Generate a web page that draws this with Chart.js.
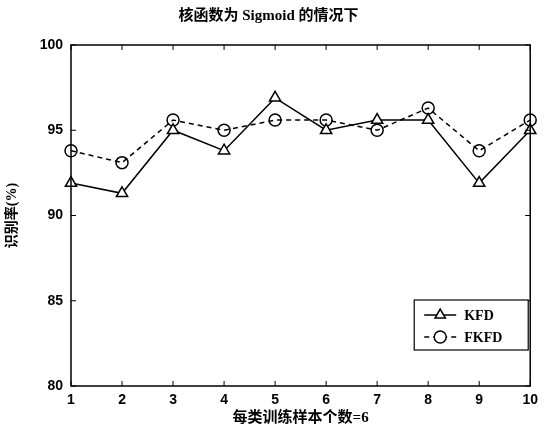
<!DOCTYPE html>
<html>
<head>
<meta charset="utf-8">
<script src="https://cdn.jsdelivr.net/npm/chart.js@4.4.0/dist/chart.umd.min.js"></script>
<style>
    html, body { margin: 0; padding: 0; background: #fff; }
    #wrap { width: 544px; height: 431px; }
</style>
</head>
<body>
<div id="wrap"><canvas id="chart" width="544" height="431"></canvas></div>
<script>
/* DATA */
const sampleCounts = ['1', '2', '3', '4', '5', '6', '7', '8', '9', '10']
const kfdRates = [91.9, 91.3, 95.0, 93.8, 96.9, 95.0, 95.6, 95.6, 91.9, 95.0]
const fkfdRates = [93.8, 93.1, 95.6, 95.0, 95.6, 95.6, 95.0, 96.3, 93.8, 95.6]
const yTicks = [80, 85, 90, 95, 100]

const TICK_FONT = { family: '"Liberation Sans", Arial, sans-serif', size: 14, weight: 'bold' }
const CJK_FONT = '"Liberation Serif", "Noto Sans CJK SC", serif'

/* frame + inward ticks, MATLAB style */
const framePlugin = {
    id: 'frame',
    afterDatasetsDraw(chart) {
        const { ctx, chartArea: a, scales } = chart
        ctx.save()
        ctx.strokeStyle = '#000'
        ctx.lineWidth = 1.5
        ctx.strokeRect(a.left, a.top, a.right - a.left, a.bottom - a.top)
        ctx.lineWidth = 1
        ctx.beginPath()
        sampleCounts.forEach((c, i) => {
            const x = scales.x.getPixelForValue(i)
            ctx.moveTo(x, a.bottom); ctx.lineTo(x, a.bottom - 5)
            ctx.moveTo(x, a.top); ctx.lineTo(x, a.top + 5)
        })
        yTicks.forEach((v) => {
            const y = scales.y.getPixelForValue(v)
            ctx.moveTo(a.left, y); ctx.lineTo(a.left + 5, y)
            ctx.moveTo(a.right, y); ctx.lineTo(a.right - 5, y)
        })
        ctx.stroke()
        ctx.restore()
    }
}

/* boxed legend at lower right */
const legendBoxPlugin = {
    id: 'legendBox',
    afterDraw(chart) {
        const { ctx, chartArea: a } = chart
        const bx = a.right - 116, by = a.bottom - 86, bw = 114, bh = 50
        ctx.save()
        ctx.fillStyle = '#fff'
        ctx.fillRect(bx, by, bw, bh)
        ctx.strokeStyle = '#000'
        ctx.lineWidth = 1.2
        ctx.strokeRect(bx, by, bw, bh)
        chart.data.datasets.forEach((ds, i) => {
            const y = by + 15 + i * 22
            ctx.lineWidth = 1.5
            ctx.setLineDash(ds.borderDash || [])
            ctx.beginPath()
            ctx.moveTo(bx + 10, y)
            ctx.lineTo(bx + 42, y)
            ctx.stroke()
            ctx.setLineDash([])
            ctx.fillStyle = '#fff'
            Chart.helpers.drawPoint(ctx, {
                pointStyle: ds.pointStyle, radius: 6, borderWidth: 1.5
            }, bx + 26, y)
            ctx.fillStyle = '#000'
            ctx.font = 'bold 14px "Liberation Serif", serif'
            ctx.textBaseline = 'middle'
            ctx.fillText(ds.label, bx + 50, y + 1)
        })
        ctx.restore()
    }
}

new Chart(document.getElementById('chart'), {
    type: 'line',
    data: {
        labels: sampleCounts,
        datasets: [
            {
                label: 'KFD',
                data: kfdRates,
                borderColor: '#000',
                borderWidth: 1.5,
                pointStyle: 'triangle',
                pointRadius: 6.5,
                pointBorderWidth: 1.5,
                pointBackgroundColor: '#fff',
                pointBorderColor: '#000',
                tension: 0
            },
            {
                label: 'FKFD',
                data: fkfdRates,
                borderColor: '#000',
                borderWidth: 1.5,
                borderDash: [5, 4],
                pointStyle: 'circle',
                pointRadius: 6,
                pointBorderWidth: 1.5,
                pointBackgroundColor: 'rgba(255,255,255,0)',
                pointBorderColor: '#000',
                tension: 0
            }
        ]
    },
    options: {
        responsive: false,
        animation: false,
        events: [],
        layout: { padding: { left: 0, right: 7, top: 0, bottom: 0 } },
        plugins: {
            legend: { display: false },
            tooltip: { enabled: false },
            title: {
                display: true,
                text: '核函数为 Sigmoid 的情况下',
                color: '#000',
                font: { family: CJK_FONT, size: 15, weight: 'bold' },
                padding: { top: 7, bottom: 20 }
            }
        },
        scales: {
            x: {
                offset: false,
                grid: { display: false, drawTicks: false },
                border: { display: false },
                ticks: { color: '#000', font: TICK_FONT, padding: 6, maxRotation: 0, autoSkip: false },
                title: {
                    display: true,
                    text: '每类训练样本个数=6',
                    color: '#000',
                    font: { family: CJK_FONT, size: 15, weight: 'bold' },
                    padding: { top: 0 }
                },
                afterFit(s) { s.height = 45 }
            },
            y: {
                min: 80,
                max: 100,
                afterBuildTicks(s) { s.ticks = yTicks.map((v) => ({ value: v })) },
                grid: { display: false, drawTicks: false },
                border: { display: false },
                ticks: { color: '#000', font: TICK_FONT, padding: 8 },
                title: {
                    display: true,
                    text: '识别率(%)',
                    color: '#000',
                    font: { family: CJK_FONT, size: 14, weight: 'bold' },
                    padding: { top: 4, bottom: 8 }
                },
                afterFit(s) { s.width = 71 }
            }
        }
    },
    plugins: [framePlugin, legendBoxPlugin]
})
</script>
</body>
</html>
